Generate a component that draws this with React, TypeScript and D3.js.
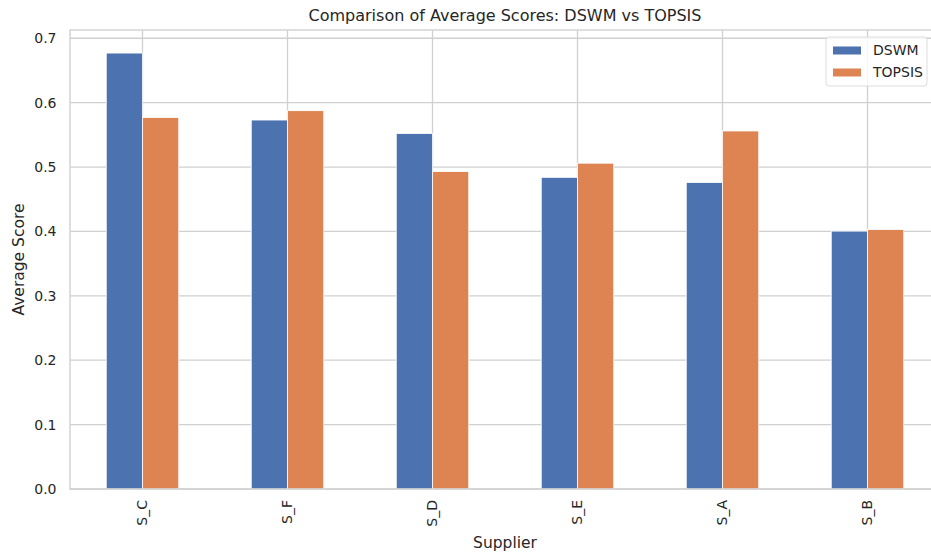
import React from "react";
import * as d3 from "d3";

const suppliers = ["S_C", "S_F", "S_D", "S_E", "S_A", "S_B"];
const dswm = [0.677, 0.573, 0.552, 0.484, 0.476, 0.4005];
const topsis = [0.577, 0.5875, 0.493, 0.506, 0.556, 0.403];
const seriesNames = ["DSWM", "TOPSIS"];
const seriesColors = ["#4C72B0", "#DD8452"];
const yTicks = [0, 0.1, 0.2, 0.3, 0.4, 0.5, 0.6, 0.7];

const W = 931;
const H = 556;
const left = 70;
const right = 940;
const top = 30;
const bottom = 489;
const font = "'DejaVu Sans', sans-serif";
const textColor = "#262626";
const gridColor = "#d0d0d0";

export default function App() {
  const x = d3.scaleLinear().domain([-0.5, suppliers.length - 0.5]).range([left, right]);
  const y = d3.scaleLinear().domain([0, 0.7128]).range([bottom, top]);
  const barW = x(0.25) - x(0);
  const series = [dswm, topsis];

  return (
    <svg width={W} height={H} style={{ position: "absolute", left: 0, top: 0, background: "#fff" }}>
      <rect x={0} y={0} width={W} height={H} fill="#fff" />
      {yTicks.map((t) => (
        <line key={"gy" + t} x1={left} x2={right} y1={y(t)} y2={y(t)} stroke={gridColor} strokeWidth={1.3} />
      ))}
      {suppliers.map((s, i) => (
        <line key={"gx" + s} x1={x(i)} x2={x(i)} y1={top} y2={bottom} stroke={gridColor} strokeWidth={1.3} />
      ))}
      {series.map((vals, si) =>
        vals.map((v, i) => {
          const x0 = x(i) + (si === 0 ? -barW : 0);
          return (
            <rect
              key={si + "-" + i}
              x={x0}
              y={y(v)}
              width={barW}
              height={y(0) - y(v)}
              fill={seriesColors[si]}
              stroke="#ffffff"
              strokeWidth={0.8}
            />
          );
        })
      )}
      <rect x={left} y={top} width={right - left} height={bottom - top} fill="none" stroke={gridColor} strokeWidth={1.4} />
      {yTicks.map((t) => (
        <text
          key={"ty" + t}
          x={56.5}
          y={y(t)}
          dy="0.35em"
          textAnchor="end"
          fontFamily={font}
          fontSize={14}
          fill={textColor}
        >
          {d3.format(".1f")(t)}
        </text>
      ))}
      {suppliers.map((s, i) => (
        <text
          key={"tx" + s}
          transform={`translate(${x(i)},${500}) rotate(-90)`}
          dy="0.35em"
          textAnchor="end"
          fontFamily={font}
          fontSize={14}
          fill={textColor}
        >
          {s}
        </text>
      ))}
      <text x={(left + right) / 2} y={548} textAnchor="middle" fontFamily={font} fontSize={15.5} fill={textColor}>
        Supplier
      </text>
      <text
        transform={`translate(${24},${(top + bottom) / 2}) rotate(-90)`}
        textAnchor="middle"
        fontFamily={font}
        fontSize={15.5}
        fill={textColor}
      >
        Average Score
      </text>
      <text x={(left + right) / 2} y={21} textAnchor="middle" fontFamily={font} fontSize={16} fill={textColor}>
        Comparison of Average Scores: DSWM vs TOPSIS
      </text>
      <g>
        <rect x={826} y={37} width={101} height={49} rx={3} fill="#fff" fillOpacity={0.8} stroke="#dddddd" strokeWidth={1} />
        {seriesNames.map((n, i) => (
          <g key={n}>
            <rect x={833} y={46.5 + i * 22} width={28} height={8} fill={seriesColors[i]} />
            <text x={873} y={50.5 + i * 22} dy="0.35em" fontFamily={font} fontSize={14} fill={textColor}>
              {n}
            </text>
          </g>
        ))}
      </g>
    </svg>
  );
}
